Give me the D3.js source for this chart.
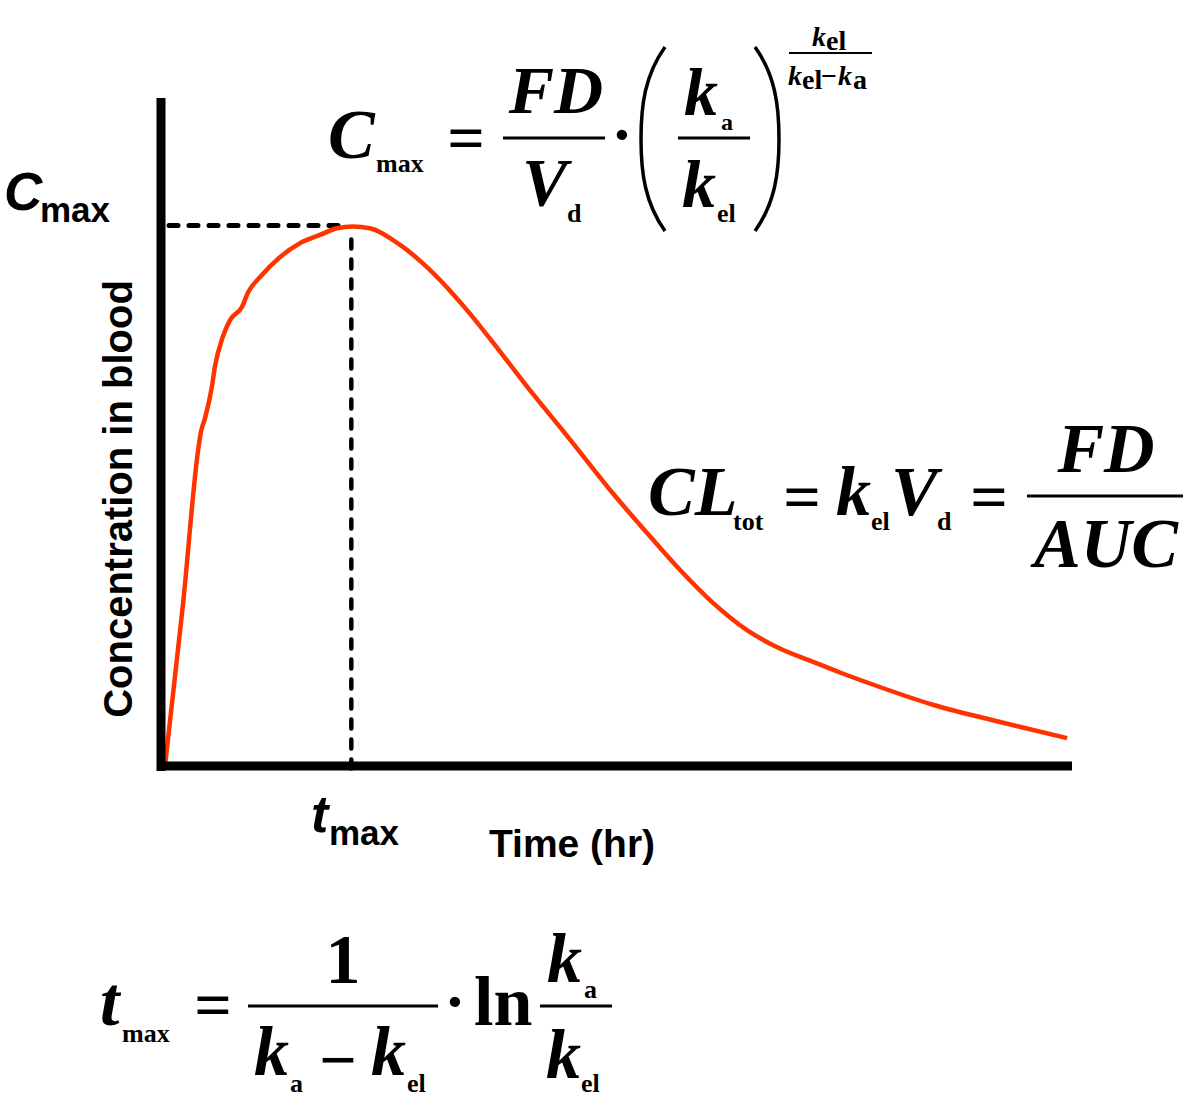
<!DOCTYPE html>
<html><head><meta charset="utf-8">
<script src="https://cdn.jsdelivr.net/npm/d3@7"></script>
<style>html,body{margin:0;padding:0;background:#fff;}svg{display:block;}</style>
</head><body>
<script>
// ---- data (time in hr, concentration in arbitrary units) ----
const timeHr = [0,0.48,0.87,0.95,1.06,1.24,1.32,1.53,1.72,2.04,2.20,2.51,3.04,3.57,4.10,4.55,4.97,5.42,6.22,7.09,7.99,8.87,9.74,10.58,10.98,11.85,12.75,13.63,14.50,15.40,16.27,17.15,17.86,18.58,20.32,22.10,23.87];
const conc   = [0,2.93,5.64,6.00,6.25,6.81,7.17,7.71,8.01,8.25,8.51,8.78,9.14,9.39,9.54,9.66,9.69,9.66,9.36,8.86,8.19,7.44,6.68,5.98,5.64,4.90,4.19,3.52,2.93,2.44,2.11,1.87,1.68,1.50,1.10,0.79,0.50];
const tMax = 4.93;
const cMax = 9.71;
const xDomain = [0, 24];
const yDomain = [0, 12];
const axisLabels = ["Time (hr)", "Concentration in blood"];

const W = 1199, H = 1107;
const svg = d3.select("body").append("svg").attr("width", W).attr("height", H);

const x = d3.scaleLinear().domain(xDomain).range([165, 1072]);
const y = d3.scaleLinear().domain(yDomain).range([766, 98]);

const sans = "'Liberation Sans', Arial, sans-serif";
const serif = "'Liberation Serif', 'Times New Roman', serif";

// dashed guides
svg.append("line").attr("x1", x(0)+4).attr("x2", x(tMax)-4).attr("y1", y(cMax)).attr("y2", y(cMax))
  .attr("stroke","#000").attr("stroke-width",5).attr("stroke-dasharray","9,11").attr("stroke-linecap","round");
svg.append("line").attr("x1", x(tMax)).attr("x2", x(tMax)).attr("y1", y(cMax)+14).attr("y2", y(0)+4)
  .attr("stroke","#000").attr("stroke-width",4.5).attr("stroke-dasharray","9,11").attr("stroke-linecap","round");

// curve
const pts = timeHr.map((t,i)=>[t, conc[i]]);
svg.append("path").datum(pts)
  .attr("d", d3.line().x(d=>x(d[0])).y(d=>y(d[1])).curve(d3.curveMonotoneX))
  .attr("fill","none").attr("stroke","#ff3300").attr("stroke-width",4.5).attr("stroke-linejoin","round");

// axes
svg.append("line").attr("x1", x(0)-4).attr("x2", x(0)-4).attr("y1", y(yDomain[1])).attr("y2", y(0)+5)
  .attr("stroke","#000").attr("stroke-width",9);
svg.append("line").attr("x1", x(0)-8).attr("x2", x(xDomain[1])).attr("y1", y(0)).attr("y2", y(0))
  .attr("stroke","#000").attr("stroke-width",9);

// axis labels
svg.append("text").attr("x", 572).attr("y", 857).attr("text-anchor","middle")
  .attr("font-family", sans).attr("font-weight","bold").attr("font-size",39).text(axisLabels[0]);
svg.append("text").attr("transform","translate(132,499) rotate(-90)").attr("text-anchor","middle")
  .attr("font-family", sans).attr("font-weight","bold").attr("font-size",40).text(axisLabels[1]);

function T(px, py, str, opt){
  const t = svg.append("text").attr("x",px).attr("y",py).text(str)
    .attr("font-family", opt.f || serif).attr("font-size", opt.s)
    .attr("font-weight","bold");
  if (opt.i) t.attr("font-style","italic");
  if (opt.a) t.attr("text-anchor", opt.a);
  return t;
}
// Cmax / tmax labels
T(4, 210, "C", {f:sans, s:53, i:true});
T(40, 222, "max", {f:sans, s:35});
T(311, 832, "t", {f:sans, s:52, i:true});
T(329, 845, "max", {f:sans, s:35});

function hline(x1,x2,yy,w){ svg.append("line").attr("x1",x1).attr("x2",x2).attr("y1",yy).attr("y2",yy).attr("stroke","#000").attr("stroke-width",w||3); }
const BIG = 70, SUB = 26;

// ---- Formula 1: Cmax ----
T(328, 158, "C", {s:BIG, i:true});
T(376, 172, "max", {s:SUB});
T(466, 160, "=", {s:66, a:"middle"});
T(556, 113, "FD", {s:68, i:true, a:"middle"});
hline(503, 605, 138);
T(522, 205, "V", {s:68, i:true});
T(567, 222, "d", {s:SUB});
T(622, 156, "·", {s:64, a:"middle"});
svg.append("path").attr("d","M665,47 C645,75 641,105 641,139 C641,173 645,203 665,231").attr("fill","none").attr("stroke","#000").attr("stroke-width",3.5);
svg.append("path").attr("d","M755,47 C775,75 779,105 779,139 C779,173 775,203 755,231").attr("fill","none").attr("stroke","#000").attr("stroke-width",3.5);
T(684, 115, "k", {s:68, i:true});
T(721, 130, "a", {s:24});
hline(678, 750, 138);
T(682, 207, "k", {s:68, i:true});
T(717, 222, "el", {s:SUB});
T(812, 46, "k", {s:28, i:true});
T(826, 50, "el", {s:28});
hline(789, 872, 53, 2);
T(788, 85, "k", {s:28, i:true});
T(802, 89, "el", {s:28});
T(821, 85, "−", {s:28});
T(838, 85, "k", {s:28, i:true});
T(853, 89, "a", {s:28});

// ---- Formula 2: CLtot ----
T(648, 515, "CL", {s:BIG, i:true});
T(733, 530, "tot", {s:SUB});
T(802, 519, "=", {s:66, a:"middle"});
T(836, 515, "k", {s:BIG, i:true});
T(871, 530, "el", {s:SUB});
T(891, 515, "V", {s:BIG, i:true});
T(937, 530, "d", {s:SUB});
T(989, 519, "=", {s:66, a:"middle"});
T(1106, 472, "FD", {s:BIG, i:true, a:"middle"});
hline(1027, 1183, 496);
T(1106, 567, "AUC", {s:BIG, i:true, a:"middle"});

// ---- Formula 3: tmax ----
T(100, 1025, "t", {s:BIG, i:true});
T(122, 1042, "max", {s:SUB});
T(213, 1027, "=", {s:66, a:"middle"});
T(343, 983, "1", {s:BIG, a:"middle"});
hline(248, 438, 1006);
T(254, 1075, "k", {s:BIG, i:true});
T(290, 1092, "a", {s:SUB});
T(338, 1082, "−", {s:66, a:"middle"});
T(371, 1075, "k", {s:BIG, i:true});
T(407, 1092, "el", {s:SUB});
T(455, 1023, "·", {s:64, a:"middle"});
T(474, 1025, "ln", {s:BIG});
T(547, 982, "k", {s:BIG, i:true});
T(584, 998, "a", {s:SUB});
hline(540, 612, 1006);
T(546, 1078, "k", {s:BIG, i:true});
T(581, 1092, "el", {s:SUB});
</script>
</body></html>
